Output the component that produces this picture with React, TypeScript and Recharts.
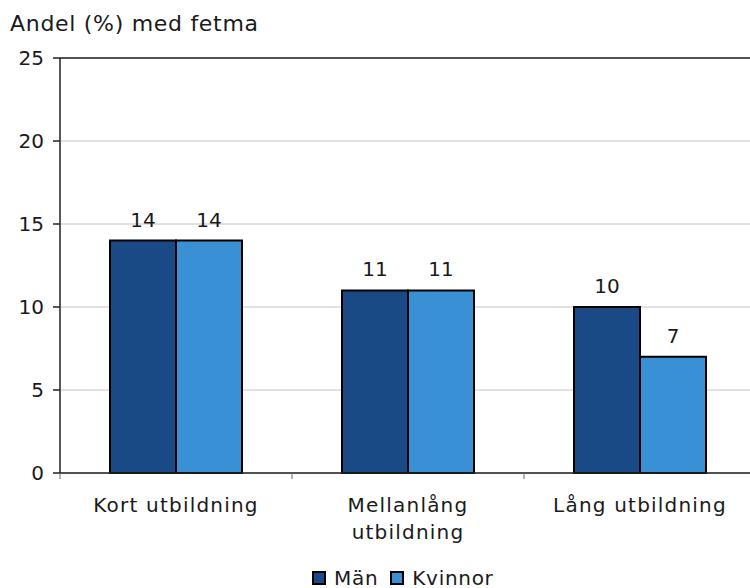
import React from "react";
import { BarChart, Bar, XAxis, YAxis, CartesianGrid, LabelList, Legend, ReferenceLine } from "recharts";

// data
const categories = ["Kort utbildning", "Mellanlång\nutbildning", "Lång utbildning"];
const men = [14, 11, 10];
const women = [14, 11, 7];
const yTicks = [0, 5, 10, 15, 20, 25];

const seriesNames = { men: "Män", women: "Kvinnor" };
const colors = { men: "#1a4a85", women: "#3a90d5" };

const FONT = "'DejaVu Sans', Verdana, sans-serif";
const TEXT = "#1a1a1a";

const data = categories.map((c, i) => ({ name: c, men: men[i], women: women[i] }));

// category labels, plus tick marks between categories
function XTick(props: any) {
  const { x, y, payload, index } = props;
  const lines = String(payload.value).split("\n");
  const half = 116;
  return (
    <g>
      <line x1={x - half} x2={x - half} y1={y} y2={y + 6} stroke="#666" strokeWidth={1} />
      {index === categories.length - 1 && (
        <line x1={x + half} x2={x + half} y1={y} y2={y + 6} stroke="#666" strokeWidth={1} />
      )}
      <text
        x={x}
        y={y + 39}
        textAnchor="middle"
        fontSize={20}
        fill={TEXT}
        fontFamily={FONT}
        style={{ letterSpacing: 1.2 }}
      >
        {lines.map((l, i) => (
          <tspan key={i} x={x} dy={i === 0 ? 0 : 27}>
            {l}
          </tspan>
        ))}
      </text>
    </g>
  );
}

function LegendBox() {
  const items = [
    { name: seriesNames.men, color: colors.men },
    { name: seriesNames.women, color: colors.women },
  ];
  return (
    <div style={{ display: "flex", alignItems: "center", fontFamily: FONT, fontSize: 20, color: TEXT, letterSpacing: 0.7 }}>
      {items.map((it) => (
        <div key={it.name} style={{ display: "flex", alignItems: "center", marginRight: 12 }}>
          <span
            style={{
              display: "inline-block",
              width: 10,
              height: 10,
              background: it.color,
              border: "2px solid #000",
              marginRight: 8,
            }}
          />
          <span>{it.name}</span>
        </div>
      ))}
    </div>
  );
}

export default function App() {
  return (
    <div style={{ position: "absolute", left: 0, top: 0, width: 750, height: 588, overflow: "hidden", background: "#fff" }}>
      <div
        style={{
          position: "absolute",
          left: 10,
          top: 11,
          fontFamily: FONT,
          fontSize: 22,
          letterSpacing: 0.7,
          color: TEXT,
          whiteSpace: "nowrap",
        }}
      >
        Andel (%) med fetma
      </div>
      <BarChart
        width={770}
        height={600}
        data={data}
        margin={{ top: 58, right: 14, left: 0, bottom: 0 }}
        barCategoryGap={50}
        barGap={0}
      >
        <CartesianGrid vertical={false} stroke="#c4c4c4" strokeWidth={1} />
        <ReferenceLine y={25} stroke="#222" strokeWidth={1.5} />
        <XAxis
          dataKey="name"
          height={127}
          interval={0}
          axisLine={{ stroke: "#222", strokeWidth: 1.5 }}
          tickLine={false}
          tickSize={0}
          tickMargin={0}
          tick={<XTick />}
        />
        <YAxis
          width={60}
          domain={[0, 25]}
          ticks={yTicks}
          interval={0}
          axisLine={{ stroke: "#222", strokeWidth: 1.5 }}
          tickLine={{ stroke: "#222", strokeWidth: 1.5 }}
          tickSize={7}
          tickMargin={9}
          tick={{ fontSize: 20, fill: TEXT, fontFamily: FONT }}
        />
        <Legend
          layout="horizontal"
          verticalAlign="middle"
          align="center"
          content={<LegendBox />}
          wrapperStyle={{ top: 566, left: 312, width: 300, height: 30 }}
        />
        <Bar dataKey="men" name={seriesNames.men} fill={colors.men} stroke="#000" strokeWidth={2} isAnimationActive={false}>
          <LabelList dataKey="men" position="top" offset={14} fontSize={20} fill={TEXT} fontFamily={FONT} />
        </Bar>
        <Bar dataKey="women" name={seriesNames.women} fill={colors.women} stroke="#000" strokeWidth={2} isAnimationActive={false}>
          <LabelList dataKey="women" position="top" offset={14} fontSize={20} fill={TEXT} fontFamily={FONT} />
        </Bar>
      </BarChart>
    </div>
  );
}
